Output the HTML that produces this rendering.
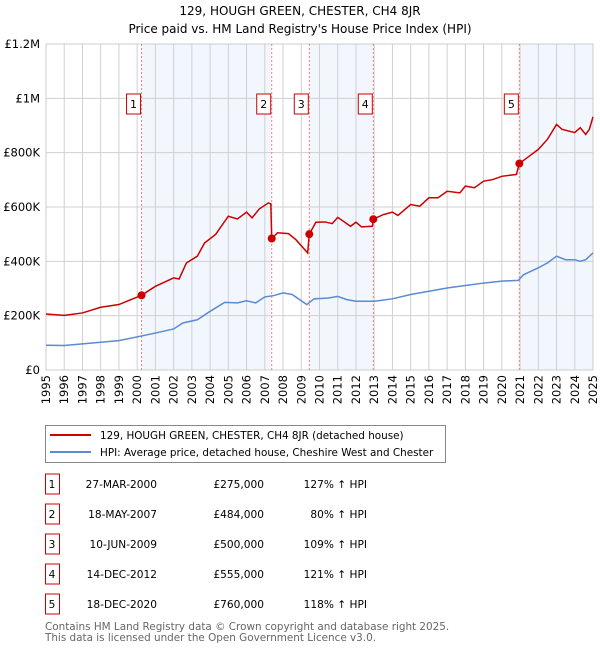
<!DOCTYPE html>
<html><head><meta charset="utf-8"><style>
body{margin:0;background:#fff;font-family:"DejaVu Sans","Liberation Sans",sans-serif;}
svg text{font-family:"DejaVu Sans","Liberation Sans",sans-serif;}
</style></head><body>
<svg id="c" width="600" height="650" xmlns="http://www.w3.org/2000/svg">
<text x="300" y="15" text-anchor="middle" font-size="12">129, HOUGH GREEN, CHESTER, CH4 8JR</text>
<text x="300" y="33" text-anchor="middle" font-size="12">Price paid vs. HM Land Registry's House Price Index (HPI)</text>
<g id="plot"></g>
<rect x="45.5" y="425.5" width="400" height="37" fill="#fff" stroke="#888"/>
<line x1="50" y1="435" x2="91" y2="435" stroke="#cc0000" stroke-width="2"/>
<text x="100" y="439" font-size="10.4">129, HOUGH GREEN, CHESTER, CH4 8JR (detached house)</text>
<line x1="50" y1="452" x2="91" y2="452" stroke="#5b8bd0" stroke-width="2"/>
<text x="100" y="456" font-size="10.4">HPI: Average price, detached house, Cheshire West and Chester</text>
<g id="table" font-size="10.6"></g>
<text x="45" y="630" font-size="10.4" fill="#666">Contains HM Land Registry data © Crown copyright and database right 2025.</text>
<text x="45" y="641" font-size="10.4" fill="#666">This data is licensed under the Open Government Licence v3.0.</text>
</svg>
<script>
const hpiYears=[1995,1996,1997,1998,1999,2000,2001,2002,2002.5,2003.3,2004,2004.8,2005.5,2006,2006.5,2007,2007.5,2008,2008.5,2009.3,2009.7,2010.5,2011,2011.5,2012,2013,2014,2015,2016,2017,2018,2019,2020,2020.9,2021.2,2022,2022.5,2023,2023.5,2024,2024.3,2024.6,2025];
const hpiValues=[91,90,96,102,108,122,136,151,173,185,216,249,247,255,247,269,274,284,278,241,262,265,271,259,253,253,262,278,290,302,311,320,327,330,351,376,394,419,406,406,400,406,431];
const priceYears=[1995,1996,1997,1998,1999,2000.24,2001,2002,2002.3,2002.7,2003.3,2003.7,2004.3,2005,2005.5,2006,2006.3,2006.7,2007.2,2007.33,2007.38,2007.7,2008.3,2008.7,2009.35,2009.44,2009.8,2010.3,2010.7,2011,2011.7,2012,2012.3,2012.9,2012.95,2013.5,2014,2014.3,2015,2015.5,2016,2016.5,2017,2017.7,2018,2018.5,2019,2019.5,2020,2020.8,2020.96,2021.5,2022,2022.5,2023,2023.3,2024,2024.3,2024.6,2024.8,2025];
const priceValues=[206,201,210,231,241,275,308,339,335,394,419,468,499,566,556,581,560,593,615,612,484,505,502,480,431,500,544,545,539,562,529,544,527,529,555,572,581,569,609,603,634,634,658,652,677,671,695,701,713,720,760,787,812,849,904,886,874,892,867,886,932];
const saleLabels=["1","2","3","4","5"];
const saleYears=[2000.24,2007.38,2009.44,2012.95,2020.96];
const saleValues=[275,484,500,555,760];
const saleDates=["27-MAR-2000","18-MAY-2007","10-JUN-2009","14-DEC-2012","18-DEC-2020"];
const salePrices=["£275,000","£484,000","£500,000","£555,000","£760,000"];
const salePct=["127% ↑ HPI","80% ↑ HPI","109% ↑ HPI","121% ↑ HPI","118% ↑ HPI"];
const yTicks=[0,200,400,600,800,1000,1200];
const yTickLabels=["£0","£200K","£400K","£600K","£800K","£1M","£1.2M"];
const NS="http://www.w3.org/2000/svg";
const L=46,R=593,T=44,B=370;
const X=y=>L+(y-1995)/30*(R-L);
const Y=v=>B-v/1200*(B-T);
const g=document.getElementById('plot');
function mk(t,a,p){const e=document.createElementNS(NS,t);for(const k in a)e.setAttribute(k,a[k]);(p||g).appendChild(e);return e;}
const shadeEnds=[saleYears[1],saleYears[3],2025];
[0,2,4].forEach((i,j)=>{const r=mk('rect',{x:X(saleYears[i]),y:T,width:X(shadeEnds[j])-X(saleYears[i]),height:B-T,fill:'#f2f6fd'});

});
for(let yr=1995;yr<=2025;yr++){const l=mk('line',{x1:X(yr),x2:X(yr),y1:T,y2:B,stroke:'#d0d0d0','stroke-width':1});


const t=mk('text',{x:0,y:0,'font-size':11.5,'text-anchor':'end',transform:`translate(${X(yr)+4},${B+5}) rotate(-90)`});t.textContent=yr;

}
yTicks.forEach((v,i)=>{const l=mk('line',{x1:L,x2:R,y1:Y(v),y2:Y(v),stroke:'#d0d0d0','stroke-width':1});


const t=mk('text',{x:L-6,y:Y(v)+4,'font-size':11.5,'text-anchor':'end'});t.textContent=yTickLabels[i];

});
mk('rect',{x:L,y:T,width:R-L,height:B-T,fill:'none',stroke:'#ccc'});
saleYears.forEach((yr,i)=>{const l=mk('line',{x1:X(yr),x2:X(yr),y1:T,y2:B,stroke:'#f08080','stroke-width':1,'stroke-dasharray':'2,2'});

});
const hp=mk('polyline',{points:hpiYears.map((y,i)=>X(y)+','+Y(hpiValues[i])).join(' '),fill:'none',stroke:'#5b8bd0','stroke-width':1.5});


const pp=mk('polyline',{points:priceYears.map((y,i)=>X(y)+','+Y(priceValues[i])).join(' '),fill:'none',stroke:'#cc0000','stroke-width':1.5});


saleYears.forEach((yr,i)=>{const c=mk('circle',{cx:X(yr),cy:Y(saleValues[i]),r:4,fill:'#cc0000'});


const bx=X(yr)-8;
const r=mk('rect',{x:bx-7,y:94,width:14,height:20,fill:'#fff',stroke:'#cc0000'});


const t=mk('text',{x:bx,y:108,'font-size':11,'text-anchor':'middle'});t.textContent=saleLabels[i];

});
const tb=document.getElementById('table');
saleLabels.forEach((s,i)=>{const y=487+i*30;
const r=mk('rect',{x:45.5,y:y-13,width:14,height:20,fill:'#fff',stroke:'#cc0000'},tb);


const vals=[[s,52,'middle'],[saleDates[i],157,'end'],[salePrices[i],264,'end'],[salePct[i],367,'end']];
vals.forEach(v=>{const t=mk('text',{x:v[1],y:y+1,'text-anchor':v[2]},tb);t.textContent=v[0];

});});
</script>
</body></html>
